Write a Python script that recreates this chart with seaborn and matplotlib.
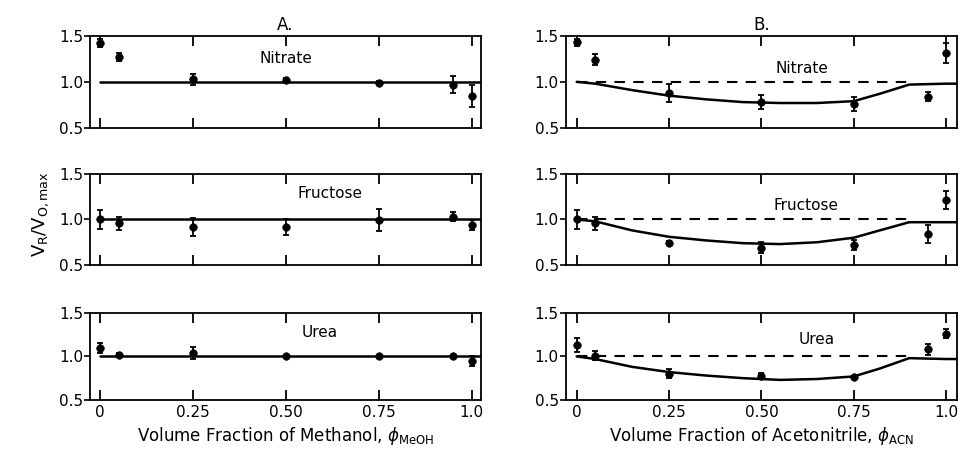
import matplotlib
matplotlib.use("Agg")
import matplotlib.pyplot as plt
import numpy as np
import pandas as pd
import seaborn as sns

# solvent volume fractions measured
phi = [0, 0.05, 0.25, 0.50, 0.75, 0.95, 1.0]

# panel A (methanol) - measured V_R/V_0,max and error
nitrate_meoh = [1.42, 1.27, 1.03, 1.02, 0.99, 0.97, 0.85]
nitrate_meoh_err = [0.04, 0.04, 0.06, 0.02, 0.02, 0.09, 0.12]
fructose_meoh = [1.00, 0.96, 0.92, 0.92, 0.99, 1.03, 0.94]
fructose_meoh_err = [0.10, 0.07, 0.10, 0.09, 0.12, 0.05, 0.05]
urea_meoh = [1.10, 1.02, 1.04, 1.00, 1.00, 1.00, 0.95]
urea_meoh_err = [0.06, 0.02, 0.07, 0.02, 0.02, 0.02, 0.06]

# panel B (acetonitrile)
nitrate_acn = [1.43, 1.24, 0.88, 0.78, 0.76, 0.84, 1.31]
nitrate_acn_err = [0.04, 0.06, 0.10, 0.08, 0.08, 0.05, 0.11]
fructose_acn = [1.00, 0.96, 0.74, 0.69, 0.72, 0.84, 1.21]
fructose_acn_err = [0.10, 0.07, 0.02, 0.06, 0.06, 0.10, 0.10]
urea_acn = [1.13, 1.01, 0.80, 0.78, 0.76, 1.08, 1.26]
urea_acn_err = [0.08, 0.05, 0.05, 0.03, 0.02, 0.06, 0.05]

# predicted curves for acetonitrile
curve_x = [0, 0.05, 0.15, 0.25, 0.35, 0.45, 0.55, 0.65, 0.75, 0.82, 0.90, 1.0, 1.03]
nitrate_curve = [1.00, 0.98, 0.91, 0.85, 0.81, 0.78, 0.77, 0.77, 0.79, 0.87, 0.97, 0.98, 0.98]
fructose_curve = [1.00, 0.98, 0.88, 0.81, 0.77, 0.74, 0.73, 0.75, 0.80, 0.88, 0.97, 0.97, 0.97]
urea_curve = [1.00, 0.97, 0.88, 0.82, 0.78, 0.75, 0.73, 0.74, 0.77, 0.86, 0.98, 0.97, 0.97]

# flat line for methanol
flat_x = [0, 1.03]
flat_y = [1.0, 1.0]
dash_x = [0, 0.90]

labels = ["Nitrate", "Fructose", "Urea"]
label_pos_a = [(0.50, 1.25), (0.62, 1.29), (0.59, 1.27)]
label_pos_b = [(0.61, 1.15), (0.62, 1.15), (0.65, 1.19)]

sns.set_theme(style="ticks")
plt.rcParams["font.family"] = ["DejaVu Sans"]
plt.rcParams["text.color"] = "black"
plt.rcParams["axes.labelcolor"] = "black"
plt.rcParams["xtick.color"] = "black"
plt.rcParams["ytick.color"] = "black"

fig = plt.figure(figsize=(9.62, 4.65), dpi=100)

rows = [(0.725, 0.198), (0.430, 0.196), (0.140, 0.187)]
cols = [(0.0936, 0.406, -0.027, 1.024), (0.588, 0.407, -0.030, 1.030)]

data_a = [(nitrate_meoh, nitrate_meoh_err), (fructose_meoh, fructose_meoh_err), (urea_meoh, urea_meoh_err)]
data_b = [(nitrate_acn, nitrate_acn_err), (fructose_acn, fructose_acn_err), (urea_acn, urea_acn_err)]
curves = [nitrate_curve, fructose_curve, urea_curve]

for c, (left, width, x0, x1) in enumerate(cols):
    for r, (bottom, height) in enumerate(rows):
        ax = fig.add_axes([left, bottom, width, height])
        vals, errs = (data_a if c == 0 else data_b)[r]
        df = pd.DataFrame({"phi": phi, "v": vals})
        if c == 0:
            sns.lineplot(x=flat_x, y=flat_y, ax=ax, color="black", lw=1.8)
        else:
            cdf = pd.DataFrame({"phi": curve_x, "v": curves[r]})
            sns.lineplot(data=cdf, x="phi", y="v", ax=ax, color="black", lw=1.8,
                         sort=False, estimator=None)
            sns.lineplot(x=dash_x, y=[1.0, 1.0], ax=ax, color="black", lw=1.5,
                         linestyle=(0, (5, 4)))
        ax.errorbar(phi, vals, yerr=errs, fmt="none", ecolor="black",
                    elinewidth=1.3, capsize=2.5, capthick=1.3)
        sns.scatterplot(data=df, x="phi", y="v", ax=ax, color="black", s=30,
                        marker="o", edgecolor="black", zorder=5)
        ax.set_xlim(x0, x1)
        ax.set_ylim(0.5, 1.5)
        ax.set_xticks([0, 0.25, 0.5, 0.75, 1.0])
        ax.set_yticks([0.5, 1.0, 1.5])
        ax.set_yticklabels(["0.5", "1.0", "1.5"])
        ax.tick_params(axis="x", direction="in", top=True, bottom=True,
                       length=7, width=1.3, colors="black")
        ax.tick_params(axis="y", direction="out", length=4, width=1.2,
                       labelsize=11, pad=1, colors="black")
        if r == 2:
            ax.set_xticklabels(["0", "0.25", "0.50", "0.75", "1.0"], fontsize=11)
        else:
            ax.set_xticklabels([])
        ax.set_xlabel("")
        ax.set_ylabel("")
        for s in ax.spines.values():
            s.set_linewidth(1.3)
            s.set_color("black")
        lx, ly = (label_pos_a if c == 0 else label_pos_b)[r]
        ax.text(lx, ly, labels[r], ha="center", va="center", fontsize=11)
        if r == 2:
            if c == 0:
                ax.set_xlabel(r"Volume Fraction of Methanol, $\phi_{\mathrm{MeOH}}$",
                              fontsize=12, labelpad=4)
            else:
                ax.set_xlabel(r"Volume Fraction of Acetonitrile, $\phi_{\mathrm{ACN}}$",
                              fontsize=12, labelpad=4)
        if r == 0:
            ax.set_title("A." if c == 0 else "B.", fontsize=12, pad=4)

fig.text(0.042, 0.54, r"$\mathrm{V_R/V_{O,max}}$", rotation=90, ha="center",
         va="center", fontsize=13)

fig.savefig("out.png", dpi=100)
